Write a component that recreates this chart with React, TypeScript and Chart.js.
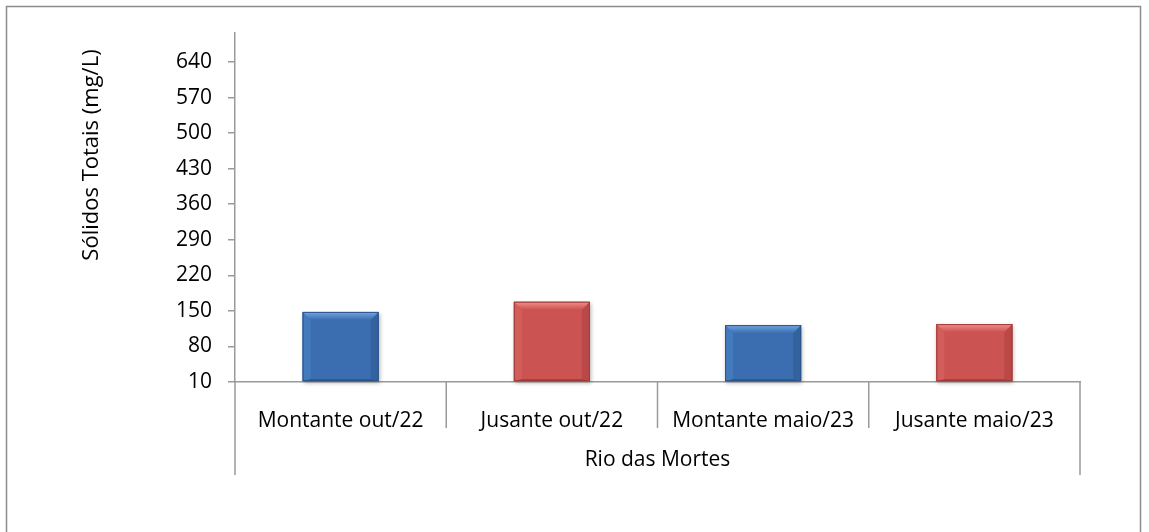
import React, { useEffect, useRef } from 'react';
import { Chart, registerables } from 'chart.js';

Chart.register(...registerables);

const categories = ['Montante out/22', 'Jusante out/22', 'Montante maio/23', 'Jusante maio/23'];
const values = [148, 168, 122, 124];
const barColors = ['#3b6eb0', '#cb5351', '#3b6eb0', '#cb5351'];
const bevelTop = ['#74a6e4', '#f38e8a', '#74a6e4', '#f38e8a'];
const bevelLeft = ['#4379bd', '#d25d5a', '#4379bd', '#d25d5a'];
const bevelRight = ['#33629f', '#b94846', '#33629f', '#b94846'];
const edgeColor = ['#2b5389', '#9f3a38', '#2b5389', '#9f3a38'];
const yTicks = [10, 80, 150, 220, 290, 360, 430, 500, 570, 640];
const yMin = 10;
const yMax = 697;
const groupLabel = 'Rio das Mortes';
const yTitle = 'Sólidos Totais (mg/L)';

const FONT = "'Open Sans', 'DejaVu Sans', sans-serif";
const FS = 21;
const AXIS_COLOR = '#9a9a9a';

const decorPlugin = {
  id: 'decor',
  beforeDatasetsDraw(chart: any) {
    const ctx = chart.ctx;
    const meta = chart.getDatasetMeta(0);
    ctx.save();
    meta.data.forEach((el: any) => {
      const { x, y, width, base } = el.getProps(['x', 'y', 'width', 'base'], true);
      ctx.shadowColor = 'rgba(0,0,0,0.3)';
      ctx.shadowBlur = 4;
      ctx.shadowOffsetX = 1;
      ctx.shadowOffsetY = 2;
      ctx.fillStyle = '#999';
      ctx.fillRect(x - width / 2, y, width, base - y);
    });
    ctx.restore();
  },
  afterDatasetsDraw(chart: any) {
    const ctx = chart.ctx;
    const meta = chart.getDatasetMeta(0);
    ctx.save();
    meta.data.forEach((el: any, i: number) => {
      const { x, y, width, base } = el.getProps(['x', 'y', 'width', 'base'], true);
      const l = x - width / 2;
      const r = x + width / 2;
      const t = y;
      const b = base;
      const bv = 8;
      const poly = (pts: number[][], fill: any) => {
        ctx.beginPath();
        ctx.moveTo(pts[0][0], pts[0][1]);
        for (let k = 1; k < pts.length; k++) ctx.lineTo(pts[k][0], pts[k][1]);
        ctx.closePath();
        ctx.fillStyle = fill;
        ctx.fill();
      };
      poly([[l, t], [l + bv, t + bv], [l + bv, b - 2], [l, b]], bevelLeft[i]);
      poly([[r, t], [r - bv, t + bv], [r - bv, b - 2], [r, b]], bevelRight[i]);
      poly([[l, b], [l + bv, b - 2], [r - bv, b - 2], [r, b]], edgeColor[i]);
      const g = ctx.createLinearGradient(0, t, 0, t + bv);
      g.addColorStop(0, bevelTop[i]);
      g.addColorStop(1, barColors[i]);
      poly([[l, t], [r, t], [r - bv, t + bv], [l + bv, t + bv]], g);
      ctx.strokeStyle = edgeColor[i];
      ctx.lineWidth = 1;
      ctx.strokeRect(l + 0.5, t + 0.5, width - 1, b - t - 1);
    });
    ctx.restore();
  },
  afterDraw(chart: any) {
    const ctx = chart.ctx;
    const area = chart.chartArea;
    const xs = chart.scales.x;
    const n = categories.length;
    ctx.save();
    ctx.strokeStyle = '#8c8c8c';
    ctx.lineWidth = 1.5;
    ctx.strokeRect(6.5, 6.5, chart.width - 15, chart.height + 20);
    ctx.strokeStyle = AXIS_COLOR;
    ctx.lineWidth = 1.5;
    for (let i = 0; i <= n; i++) {
      let px: number;
      if (i === 0) px = area.left;
      else if (i === n) px = area.right;
      else px = (xs.getPixelForTick(i - 1) + xs.getPixelForTick(i)) / 2;
      const len = i === 0 || i === n ? 93 : 46;
      ctx.beginPath();
      ctx.moveTo(px, area.bottom);
      ctx.lineTo(px, area.bottom + len);
      ctx.stroke();
    }
    ctx.translate(area.left - 143, 155);
    ctx.rotate(-Math.PI / 2);
    ctx.fillStyle = '#000';
    ctx.font = `22px ${FONT}`;
    ctx.textAlign = 'center';
    ctx.textBaseline = 'middle';
    ctx.fillText(yTitle, 0, 0);
    ctx.restore();
  },
};

export default function App() {
  const ref = useRef<HTMLCanvasElement | null>(null);
  useEffect(() => {
    if (!ref.current) return;
    const chart = new Chart(ref.current, {
      type: 'bar',
      data: {
        labels: categories,
        datasets: [
          {
            data: values,
            base: yMin,
            backgroundColor: barColors,
            borderWidth: 0,
            categoryPercentage: 1,
            barPercentage: 0.36,
          },
        ],
      },
      options: {
        responsive: false,
        animation: false,
        layout: { padding: { left: 0, top: 33, right: 69, bottom: 50 } },
        plugins: { legend: { display: false }, tooltip: { enabled: false } },
        scales: {
          x: {
            grid: { display: false },
            border: { display: true, color: AXIS_COLOR, width: 1.5 },
            ticks: { color: '#000', font: { family: FONT, size: FS }, padding: 18, maxRotation: 0, autoSkip: false },
            title: { display: true, text: groupLabel, color: '#000', font: { family: FONT, size: FS }, padding: { top: 0, bottom: 9 } },
            afterFit: (s: any) => { s.height = 100; },
          },
          y: {
            min: yMin,
            max: yMax,
            beginAtZero: false,
            grid: { drawOnChartArea: false, drawTicks: true, tickLength: 7, color: AXIS_COLOR, lineWidth: 1.5 },
            border: { display: true, color: AXIS_COLOR, width: 1.5 },
            ticks: { color: '#000', font: { family: FONT, size: 21 }, padding: 16 },
            afterBuildTicks: (s: any) => { s.ticks = yTicks.map((v) => ({ value: v })); },
            afterFit: (s: any) => { s.width = 235; },
          },
        },
      },
      plugins: [decorPlugin],
    });
    return () => chart.destroy();
  }, []);
  return (
    <div style={{ position: 'absolute', left: 0, top: 0, width: 1149, height: 532, background: '#fff' }}>
      <canvas ref={ref} width={1149} height={532} />
    </div>
  );
}
